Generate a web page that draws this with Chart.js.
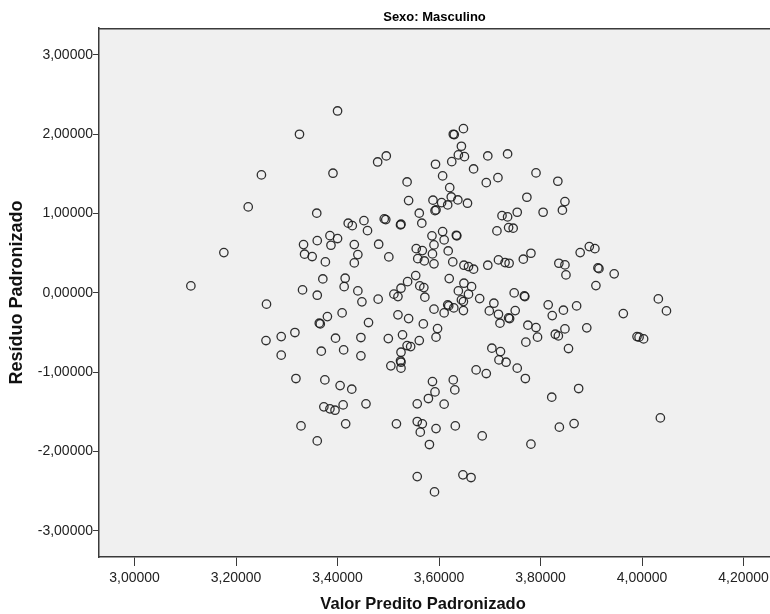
<!DOCTYPE html>
<html>
<head>
<meta charset="utf-8">
<script src="https://cdn.jsdelivr.net/npm/chart.js@4/dist/chart.umd.min.js"></script>
<style>
html,body{margin:0;padding:0;background:#ffffff;overflow:hidden}
#wrap{width:770px;height:614px;position:relative}
</style>
</head>
<body>
<div id="wrap"><canvas id="c" width="770" height="614"></canvas></div>
<script>
// ---- data ----
const chartTitle = 'Sexo: Masculino';
const xAxisTitle = 'Valor Predito Padronizado';
const yAxisTitle = 'Resíduo Padronizado';

const xTickValues = [3.0, 3.2, 3.4, 3.6, 3.8, 4.0, 4.2];
const yTickValues = [-3, -2, -1, 0, 1, 2, 3];

const predicted = [
  3.400,3.325,3.250,3.391,3.224,3.359,3.648,3.628,3.630,3.644,
  3.638,3.650,3.625,3.593,3.668,3.607,3.696,3.735,3.716,3.693,
  3.496,3.479,3.537,3.540,3.621,3.624,3.588,3.605,3.637,3.656,
  3.617,3.594,3.592,3.561,3.566,3.525,3.524,3.492,3.495,3.452,
  3.459,3.421,3.429,3.724,3.735,3.754,3.737,3.746,3.714,3.791,
  3.834,3.773,3.848,3.843,3.805,3.176,3.111,3.260,3.333,3.360,
  3.385,3.400,3.387,3.335,3.350,3.376,3.371,3.331,3.360,3.415,
  3.413,3.409,3.380,3.364,3.366,3.316,3.289,3.259,3.396,3.289,
  3.368,3.412,3.433,3.440,3.433,3.481,3.501,3.555,3.567,3.558,
  3.571,3.586,3.607,3.610,3.590,3.587,3.590,3.618,3.634,3.635,
  3.627,3.649,3.658,3.668,3.696,3.717,3.730,3.738,3.440,3.448,
  3.480,3.554,3.538,3.525,3.511,3.519,3.562,3.570,3.572,3.620,
  3.649,3.664,3.638,3.658,3.644,3.648,3.680,3.748,3.617,3.619,
  3.629,3.610,3.648,3.590,3.708,3.699,3.717,3.737,3.739,3.750,
  3.720,3.519,3.540,3.569,3.461,3.597,3.594,3.561,3.528,3.500,
  3.446,3.537,3.544,3.525,3.524,3.525,3.505,3.525,3.446,3.704,
  3.721,3.718,3.732,3.781,3.766,3.836,3.848,3.850,3.878,3.896,
  3.907,3.913,3.915,3.945,3.909,3.768,3.769,3.815,3.823,3.845,
  3.871,3.775,3.791,3.794,3.771,3.829,3.835,3.848,3.891,3.855,
  3.963,4.032,4.048,3.990,3.994,4.003,3.318,3.375,3.405,3.428,
  3.373,3.385,3.395,3.411,3.328,3.416,3.360,3.456,3.516,3.557,
  3.579,3.587,3.592,3.610,3.628,3.631,3.557,3.567,3.563,3.594,
  3.632,3.685,3.581,3.557,3.591,3.647,3.663,3.673,3.693,3.754,
  3.770,3.822,3.875,3.837,3.866,3.781,4.036
];

const residual = [
  2.294,2.000,1.488,1.509,1.084,1.005,2.071,2.000,1.996,1.849,
  1.740,1.718,1.655,1.622,1.563,1.475,1.727,1.752,1.453,1.390,
  1.727,1.651,1.399,1.164,1.327,1.210,1.169,1.138,1.172,1.131,
  1.109,1.046,1.037,1.005,0.879,0.866,0.857,0.933,0.924,0.911,
  0.785,0.879,0.848,0.974,0.958,1.017,0.823,0.816,0.782,1.513,
  1.408,1.206,1.151,1.043,1.017,0.508,0.088,-0.142,0.609,0.659,
  0.722,0.685,0.601,0.488,0.458,0.391,0.176,0.038,-0.029,0.185,
  0.079,-0.252,-0.299,-0.382,-0.391,-0.500,-0.551,-0.601,-0.571,-0.785,
  -0.735,-0.719,0.609,0.483,0.378,0.614,0.454,0.558,0.533,0.432,
  0.403,0.719,0.773,0.668,0.605,0.492,0.366,0.529,0.727,0.719,
  0.391,0.349,0.332,0.299,0.349,0.416,0.382,0.374,0.025,-0.113,
  -0.079,0.218,0.142,0.059,-0.016,-0.047,0.088,0.067,-0.054,0.180,
  0.122,0.079,0.025,-0.016,-0.088,-0.110,-0.072,0.000,-0.151,-0.164,
  -0.189,-0.252,-0.223,-0.205,-0.130,-0.227,-0.269,-0.315,-0.324,-0.223,
  -0.382,-0.277,-0.324,-0.391,-0.374,-0.450,-0.558,-0.601,-0.529,-0.576,
  -0.563,-0.664,-0.677,-0.748,-0.857,-0.874,-0.920,-0.949,-0.794,-0.697,
  -0.740,-0.845,-0.874,0.500,0.425,0.374,0.353,0.227,0.508,0.584,
  0.558,0.315,0.306,0.240,0.092,-0.038,-0.047,-0.151,-0.286,-0.218,
  -0.164,-0.407,-0.437,-0.558,-0.621,-0.521,-0.542,-0.454,-0.441,-0.702,
  -0.261,-0.076,-0.227,-0.551,-0.558,-0.580,-1.080,-1.097,-1.169,-1.214,
  -1.437,-1.462,-1.479,-1.412,-1.677,-1.651,-1.866,-1.399,-1.651,-1.399,
  -1.332,-1.118,-1.248,-1.403,-1.097,-1.223,-1.622,-1.651,-1.756,-1.711,
  -1.677,-1.803,-1.912,-2.316,-2.509,-2.294,-2.328,-0.971,-1.017,-0.949,
  -1.080,-1.315,-1.206,-1.693,-1.648,-1.907,-1.576
];

// ---- chart ----
const points = predicted.map((x, i) => ({ x: x, y: residual[i] }));
const fmt = v => (v < 0 ? '-' : '') + Math.abs(v).toFixed(5).replace('.', ',');
const FONT = '"Liberation Sans", Arial, "DejaVu Sans", sans-serif';
const AXIS = '#3a3a3a';

const plotBox = {
  id: 'plotBox',
  beforeDraw(chart) {
    const a = chart.chartArea, ctx = chart.ctx;
    ctx.save();
    ctx.fillStyle = '#f0f0f0';
    ctx.fillRect(a.left, a.top, a.right - a.left, a.bottom - a.top);
    ctx.restore();
  },
  afterDraw(chart) {
    const a = chart.chartArea, ctx = chart.ctx;
    ctx.save();
    ctx.strokeStyle = AXIS;
    ctx.lineWidth = 1.5;
    ctx.beginPath();
    ctx.moveTo(a.left, a.top + 0.75);
    ctx.lineTo(a.right, a.top + 0.75);
    ctx.stroke();
    ctx.restore();
  }
};

new Chart(document.getElementById('c'), {
  type: 'scatter',
  data: {
    datasets: [{
      data: points,
      pointStyle: 'circle',
      pointRadius: 4.2,
      pointHoverRadius: 4.2,
      borderWidth: 1.3,
      borderColor: 'rgba(25,25,25,0.9)',
      backgroundColor: 'rgba(0,0,0,0)'
    }]
  },
  options: {
    responsive: false,
    animation: false,
    events: [],
    layout: { autoPadding: false, padding: { top: 0, left: 0, right: 0, bottom: 0 } },
    plugins: {
      legend: { display: false },
      tooltip: { enabled: false },
      title: {
        display: true,
        fullSize: false,
        text: chartTitle,
        color: '#000',
        font: { family: FONT, size: 13, weight: 'bold', lineHeight: '14px' },
        padding: { top: 10, bottom: 4 }
      }
    },
    scales: {
      x: {
        type: 'linear',
        min: 2.93,
        max: 4.252,
        afterBuildTicks: s => { s.ticks = xTickValues.map(v => ({ value: v })); },
        afterFit: s => { s.height = 57; s.paddingLeft = 0; s.paddingRight = 0; },
        ticks: {
          autoSkip: false,
          maxRotation: 0,
          padding: 4,
          color: '#222',
          font: { family: FONT, size: 14 },
          callback: v => fmt(v)
        },
        grid: { drawOnChartArea: false, drawTicks: true, tickLength: 9, color: AXIS, lineWidth: 1 },
        border: { display: true, color: AXIS, width: 1.5 },
        title: {
          display: true,
          text: xAxisTitle + '\u00a0\u00a0\u00a0\u00a0\u00a0',
          color: '#111',
          font: { family: FONT, size: 16.5, weight: 'bold', lineHeight: 1.2 },
          padding: { top: 0, bottom: 0 }
        }
      },
      y: {
        type: 'linear',
        min: -3.33,
        max: 3.34,
        afterBuildTicks: s => { s.ticks = yTickValues.map(v => ({ value: v })); },
        afterFit: s => { s.width = 99; s.paddingTop = 0; s.paddingBottom = 0; },
        ticks: {
          autoSkip: false,
          padding: 0,
          color: '#222',
          font: { family: FONT, size: 14 },
          callback: v => fmt(v)
        },
        grid: { drawOnChartArea: false, drawTicks: true, tickLength: 6, color: AXIS, lineWidth: 1 },
        border: { display: true, color: AXIS, width: 1.5 },
        title: {
          display: true,
          text: yAxisTitle,
          color: '#111',
          font: { family: FONT, size: 18, weight: 'bold', lineHeight: 1.2 },
          padding: { top: 6, bottom: 0 }
        }
      }
    }
  },
  plugins: [plotBox]
});
</script>
</body>
</html>
